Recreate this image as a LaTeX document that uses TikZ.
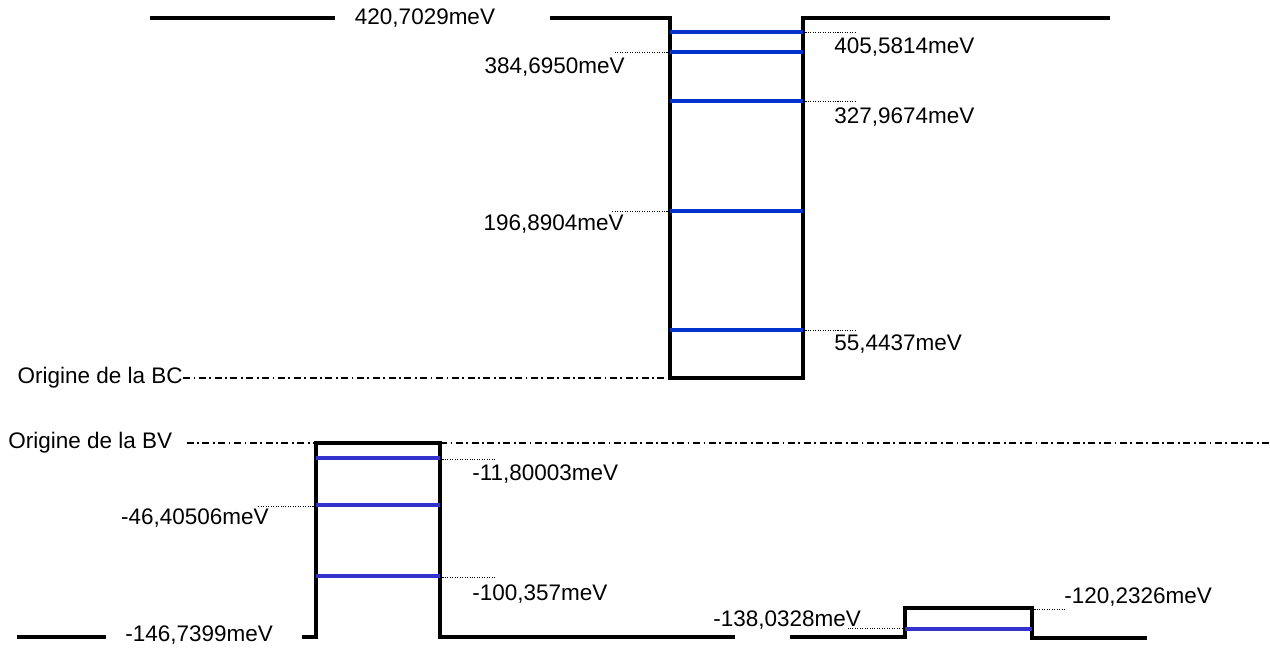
\documentclass[tikz,border=0pt]{standalone}
\usepackage{fontspec}
\setmainfont{Liberation Sans}
\usetikzlibrary{positioning}

\definecolor{cbblue}{RGB}{0,51,204}
\definecolor{bvblue}{RGB}{51,51,204}

\begin{document}
\begin{tikzpicture}[x=0.02cm, y=-0.02cm,
    font=\fontsize{12.8}{15}\selectfont,
    band/.style={line width=2.8pt, line join=miter},
    level/.style={line width=2.7pt},
    leader/.style={line width=0.5pt, dash pattern=on 0.6pt off 0.8pt},
    origin/.style={line width=0.6pt, dash pattern=on 4pt off 2pt on 1pt off 2pt},
    lbl/.style={inner sep=0pt}]
    \useasboundingbox (0,0) rectangle (1270,648);

    % Conduction band profile
    \draw[band] (150,18) -- (335,18);
    \node[lbl] (ecb) at (425,18) {420,7029meV};
    \draw[band] (550,18) -- (670,18) -- (670,378) -- (803,378) -- (803,18) -- (1110,18);

    % Conduction band levels
    \draw[level, cbblue] (670,32) -- (803,32);
    \draw[level, cbblue] (670,52) -- (803,52);
    \draw[level, cbblue] (670,101) -- (803,101);
    \draw[level, cbblue] (670,211) -- (803,211);
    \draw[level, cbblue] (670,330) -- (803,330);

    % Conduction band labels
    \draw[leader] (803,32) -- (857,32);
    \node[lbl, anchor=west] (e405) at (834,47) {405,5814meV};
    \draw[leader] (670,52) -- (615,52);
    \node[lbl, anchor=east] (e384) at (625,67) {384,6950meV};
    \draw[leader] (803,101) -- (857,101);
    \node[lbl, anchor=west] (e327) at (834,117) {327,9674meV};
    \draw[leader] (670,211) -- (612,211);
    \node[lbl, anchor=east] (e196) at (624,224) {196,8904meV};
    \draw[leader] (803,330) -- (857,330);
    \node[lbl, anchor=west] (e55) at (834,344) {55,4437meV};

    % Origin of the conduction band
    \node[lbl, anchor=east] (obc) at (183,378) {Origine de la BC};
    \draw[origin] (obc.east) -- (670,378);

    % Valence band profile
    \node[lbl, anchor=west] (obv) at (8,443) {Origine de la BV};
    \draw[origin] ([xshift=8pt]obv.east) -- (316,443);
    \draw[origin] (440,443) -- (1270,443);
    \draw[band] (17,637) -- (106,637);
    \node[lbl, anchor=west] (ebv) at (125,635) {-146,7399meV};
    \draw[band] (302,637) -- (316,637) -- (316,443) -- (440,443) -- (440,637) -- (735,637);

    % Valence band levels
    \draw[level, bvblue] (316,458) -- (440,458);
    \draw[level, bvblue] (316,505) -- (440,505);
    \draw[level, bvblue] (316,576) -- (440,576);

    % Valence band labels
    \draw[leader] (440,459) -- (495,459);
    \node[lbl, anchor=west] (e11) at (472,474) {-11,80003meV};
    \draw[leader] (316,506) -- (257,506);
    \node[lbl, anchor=east] (e46) at (269,518) {-46,40506meV};
    \draw[leader] (440,577) -- (495,577);
    \node[lbl, anchor=west] (e100) at (472,594) {-100,357meV};

    % Second valence well
    \draw[band] (790,637) -- (905,637) -- (905,608) -- (1032,608) -- (1032,638) -- (1147,638);
    \draw[level, bvblue] (905,629) -- (1032,629);
    \draw[leader] (905,628) -- (848,628);
    \node[lbl, anchor=west] (e138) at (713,620) {-138,0328meV};
    \draw[leader] (1032,609) -- (1065,609);
    \node[lbl, anchor=west] (e120) at (1064,597) {-120,2326meV};
\end{tikzpicture}
\end{document}
